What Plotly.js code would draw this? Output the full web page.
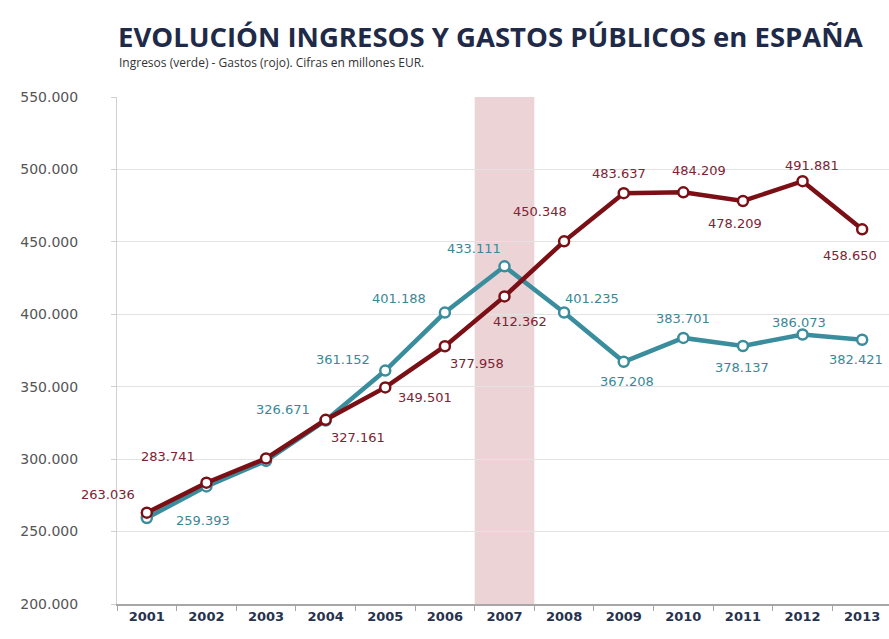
<!DOCTYPE html>
<html>
<head>
<meta charset="utf-8">
<script src="https://cdn.plot.ly/plotly-3.0.1.min.js"></script>
<style>html,body{margin:0;padding:0;background:#fff;}#chart{width:889px;height:639px;}</style>
</head>
<body>
<div id="chart"></div>
<script>
// ---- Data ----
const years = ["2001","2002","2003","2004","2005","2006","2007","2008","2009","2010","2011","2012","2013"];
const gastos = [263036, 283741, 300500, 327161, 349501, 377958, 412362, 450348, 483637, 484209, 478209, 491881, 458650];
const ingresos = [259393, 281200, 298800, 326671, 361152, 401188, 433111, 401235, 367208, 383701, 378137, 386073, 382421];
// which points carry a value label
const gastosLabeled = [true,true,false,true,true,true,true,true,true,true,true,true,true];
const ingresosLabeled = [true,false,false,true,true,true,true,true,true,true,true,true,true];
const crisisYear = "2007";
const yTicks = [200000,250000,300000,350000,400000,450000,500000,550000];

// ---- Label offsets (pixels: dx, dy; dy positive = down) ----
const gastosOff = [[-39,-18],[-38,-26],[0,0],[32,18],[40,10],[32,17],[16,25],[-24,-30],[-5,-20],[16,-22],[-8,23],[9,-16],[-12,26]];
const ingresosOff = [[56,3],[0,0],[0,0],[-43,-11],[-42,-11],[-46,-14],[-30,-18],[28,-14],[3,20],[0,-19],[-1,22],[-4,-12],[-6,20]];

const RED = "#7a1016", TEAL = "#3a8d9d";
const RED_TXT = "#7f2233", TEAL_TXT = "#3a8796";
const fmt = v => (v/1000).toFixed(3);

const traces = [
  {x: years, y: ingresos, type: "scatter", mode: "lines+markers", name: "Ingresos",
   line: {color: TEAL, width: 4.5}, cliponaxis: false,
   marker: {symbol: "circle", size: 10, color: "#ffffff", line: {color: TEAL, width: 2.5}}},
  {x: years, y: gastos, type: "scatter", mode: "lines+markers", name: "Gastos",
   line: {color: RED, width: 4.5}, cliponaxis: false,
   marker: {symbol: "circle", size: 10, color: "#ffffff", line: {color: RED, width: 2.5}}}
];

const annotations = [];
years.forEach((yr, i) => {
  if (gastosLabeled[i]) annotations.push({x: i, y: gastos[i], xref: "x", yref: "y", text: fmt(gastos[i]),
    showarrow: false, xshift: gastosOff[i][0], yshift: -gastosOff[i][1],
    font: {family: "DejaVu Sans", size: 13, color: RED_TXT}});
  if (ingresosLabeled[i]) annotations.push({x: i, y: ingresos[i], xref: "x", yref: "y", text: fmt(ingresos[i]),
    showarrow: false, xshift: ingresosOff[i][0], yshift: -ingresosOff[i][1],
    font: {family: "DejaVu Sans", size: 13, color: TEAL_TXT}});
});
annotations.push({xref: "paper", yref: "paper", x: 0, y: (604 - 62) / 507, xanchor: "left", yanchor: "middle",
  text: "Ingresos (verde) - Gastos (rojo). Cifras en millones EUR.", showarrow: false,
  font: {family: "Open Sans", size: 12, color: "#333333"}});

const ci = years.indexOf(crisisYear);
const layout = {
  width: 889, height: 639,
  margin: {l: 117, r: 0, t: 97, b: 35},
  paper_bgcolor: "#ffffff", plot_bgcolor: "#ffffff",
  showlegend: false,
  title: {text: "<b>EVOLUCIÓN INGRESOS Y GASTOS PÚBLICOS en ESPAÑA</b>", x: 118/889, xanchor: "left",
    xref: "container", yref: "container", y: 1 - 37/639, yanchor: "middle",
    font: {family: "Open Sans", size: 27.5, color: "#1f2a48"}},
  xaxis: {type: "category", range: [-0.5, 12.45], showgrid: false, zeroline: false,
    showline: true, linecolor: "#a6a6a6", linewidth: 1.5,
    ticks: "outside", tickson: "boundaries", ticklen: 5, tickcolor: "#a6a6a6",
    tickfont: {family: "DejaVu Sans", size: 13, color: "#27324d", weight: "bold"}},
  yaxis: {range: [200000, 550000], tickvals: yTicks, ticktext: yTicks.map(fmt),
    showgrid: true, gridcolor: "#e3e3e3", gridwidth: 1, zeroline: false,
    showline: true, linecolor: "#d0d0d0", linewidth: 1,
    ticks: "outside", ticklen: 5, tickcolor: "#d0d0d0", ticklabelstandoff: 30,
    tickfont: {family: "DejaVu Sans", size: 14, color: "#555555"}},
  shapes: [{type: "rect", xref: "x", yref: "paper", x0: ci - 0.5, x1: ci + 0.5, y0: 0, y1: 1,
    fillcolor: "rgba(205,140,148,0.38)", line: {width: 0}, layer: "below"}],
  annotations: annotations
};

Plotly.newPlot("chart", traces, layout, {displayModeBar: false, staticPlot: true});
</script>
</body>
</html>
